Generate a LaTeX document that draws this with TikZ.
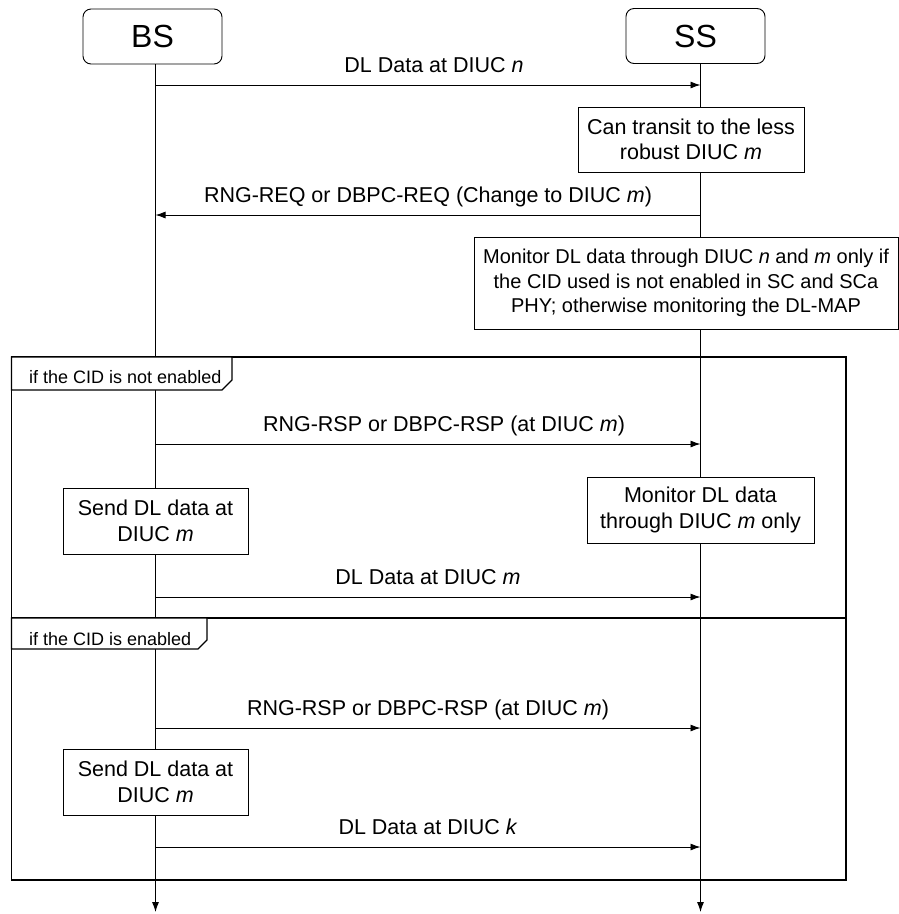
\documentclass[tikz,border=0pt]{standalone}
\usepackage{fontspec}
\setmainfont{Liberation Sans}
\usepackage{tikz}
\usetikzlibrary{arrows.meta,calc,positioning}
\newcommand{\diuc}[1]{DIUC \textit{#1}}

\begin{document}
\begin{tikzpicture}[x=1pt,y=-1pt]
    \tikzstyle{entity}=[rectangle,rounded corners=8pt,draw,line width=0.9pt,%
    fill=white,minimum width=139pt,minimum height=55pt,%
    font=\fontsize{32}{36}\selectfont] %
    \tikzstyle{actbox}=[rectangle,draw,line width=0.9pt,fill=white,%
    align=center,inner sep=2pt,font=\fontsize{21.5}{25.5}\selectfont] %
    \tikzstyle{msg}=[-{Latex[length=10pt,width=7pt]},line width=0.9pt] %
    \tikzstyle{msglabel}=[anchor=base,yshift=12.5pt,inner sep=0pt,%
    font=\fontsize{21.5}{25.5}\selectfont] %
    \tikzstyle{lifeline}=[-{Latex[length=10pt,width=7pt]},line width=0.9pt] %
    \tikzstyle{frame}=[line width=1.1pt] %
    \tikzstyle{guard}=[anchor=base west,inner sep=0pt,%
    font=\fontsize{18}{22}\selectfont] %

    \useasboundingbox (0,0) rectangle (899,914);

    %% entities and lifelines
    \node[entity] (BS) at (152.5, 36.5) {BS};
    \node[entity] (SS) at (695.5, 36) {SS};
    \coordinate (BSend) at (155.5, 912);
    \coordinate (SSend) at (700.5, 912);
    \draw[lifeline] (BS.south -| BSend) -- (BSend);
    \draw[lifeline] (SS.south -| SSend) -- (SSend);

    \foreach \i/\y in {1/85, 2/215, 3/444, 4/597, 5/728, 6/847}
    {
        \coordinate (BS\i) at (155.5, \y);
        \coordinate (SS\i) at (700.5, \y);
    }

    %% alternatives
    \draw[frame] (11.5, 357) rectangle (846, 880);
    \draw[frame] (11.5, 618) -- (846, 618);
    \filldraw[frame,fill=white] (11.5, 357) -- (232, 357) -- (232, 380)
        -- (222, 390) -- (11.5, 390) -- cycle;
    \filldraw[frame,fill=white] (11.5, 618) -- (207, 618) -- (207, 640)
        -- (198, 649) -- (11.5, 649) -- cycle;
    \node[guard] (ALT1) at (29, 383.5) {if the CID is not enabled};
    \node[guard] (ALT2) at (29, 645) {if the CID is enabled};

    %% actions
    \node[actbox,minimum width=226pt,minimum height=65pt] (TRANSIT)
        at (691, 139.5) {Can transit to the less\\robust \diuc{m}};
    \node[actbox,minimum width=424pt,minimum height=92pt,%
        font=\fontsize{20}{24.5}\selectfont] (MON0)
        at (686, 283) {Monitor DL data through \diuc{n} and \textit{m} only if\\%
        the CID used is not enabled in SC and SCa\\%
        PHY; otherwise monitoring the DL-MAP};
    \node[actbox,minimum width=185pt,minimum height=66pt] (SEND1)
        at (155.5, 521) {Send DL data at\\\diuc{m}};
    \node[actbox,minimum width=227pt,minimum height=66pt] (MON1)
        at (700.5, 510) {Monitor DL data\\through \diuc{m} only};
    \node[actbox,minimum width=185pt,minimum height=66pt] (SEND2)
        at (155.5, 782) {Send DL data at\\\diuc{m}};

    %% messages
    \draw[msg] (BS1) -- node[msglabel,xshift=6pt] {DL Data at \diuc{n}} (SS1);
    \draw[msg] (SS2) -- node[msglabel] {RNG-REQ or DBPC-REQ (Change to \diuc{m})} (BS2);
    \draw[msg] (BS3) -- node[msglabel,xshift=16pt] {RNG-RSP or DBPC-RSP (at \diuc{m})} (SS3);
    \draw[msg] (BS4) -- node[msglabel] {DL Data at \diuc{m}} (SS4);
    \draw[msg] (BS5) -- node[msglabel] {RNG-RSP or DBPC-RSP (at \diuc{m})} (SS5);
    \draw[msg] (BS6) -- node[msglabel] {DL Data at \diuc{k}} (SS6);
\end{tikzpicture}
\end{document}
